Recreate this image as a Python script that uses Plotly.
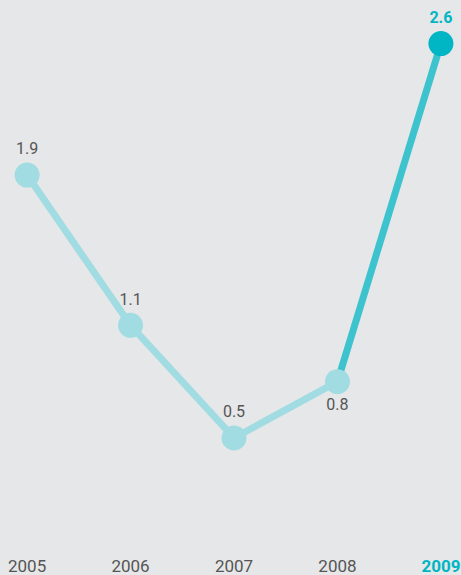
import plotly.graph_objects as go

years = [2005, 2006, 2007, 2008, 2009]
values = [1.9, 1.1, 0.5, 0.8, 2.6]
labels = ["1.9", "1.1", "0.5", "0.8", "<b>2.6</b>"]
label_pos = ["top center", "top center", "top center", "bottom center", "top center"]

LIGHT = "#a1dce3"
DARK = "#00b6c4"
MID = "#3cc3cd"
BG = "#e6e7e8"
TXT = "#555555"
FONT = "Roboto, sans-serif"

tick_text = ["2005", "2006", "2007", "2008",
             "<span style='color:%s'><b>2009</b></span>" % DARK]

fig = go.Figure()
fig.add_trace(go.Scatter(x=years[:4], y=values[:4], mode="lines",
                         line=dict(color=LIGHT, width=7), hoverinfo="skip", cliponaxis=False))
fig.add_trace(go.Scatter(x=years[3:], y=values[3:], mode="lines",
                         line=dict(color=MID, width=7), hoverinfo="skip", cliponaxis=False))
fig.add_trace(go.Scatter(
    x=years, y=values, mode="markers+text",
    marker=dict(size=25, color=[LIGHT, LIGHT, LIGHT, LIGHT, DARK]),
    text=labels, textposition=label_pos,
    textfont=dict(family=FONT, size=16, color=[TXT, TXT, TXT, TXT, DARK]),
    cliponaxis=False, hoverinfo="skip"))

fig.add_annotation(xref="paper", yref="paper", x=0.08, y=1.008, xanchor="center", yanchor="bottom",
                   text="(%)", showarrow=False, font=dict(family=FONT, size=16, color=TXT))

fig.update_layout(
    width=461, height=575,
    margin=dict(l=27, r=20, t=6, b=23),
    paper_bgcolor=BG, plot_bgcolor=BG,
    showlegend=False,
    xaxis=dict(range=[2004.999, 2009.001], tickvals=years, ticktext=tick_text,
               showgrid=False, zeroline=False, showline=False, ticks="",
               automargin=False, ticklabelstandoff=2,
               tickfont=dict(family=FONT, size=17, color=TXT)),
    yaxis=dict(range=[-0.107, 2.8], visible=False, showgrid=False, zeroline=False,
               automargin=False),
)
fig.write_html("out.html")
